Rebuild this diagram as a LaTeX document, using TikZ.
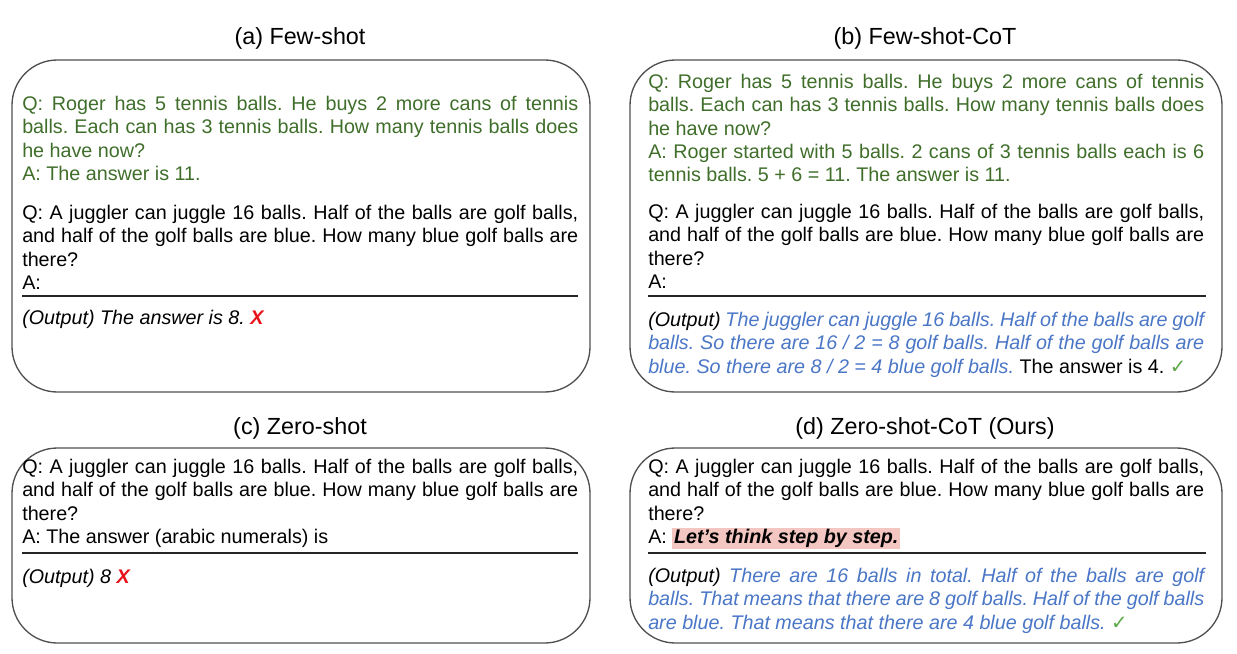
\documentclass[tikz,border=0pt]{standalone}
\usepackage{fontspec}
\setmainfont{Liberation Sans}
\newfontfamily\checkfont{DejaVu Sans}
\usetikzlibrary{positioning}
\definecolor{qgreen}{HTML}{3F6E2A}
\definecolor{outblue}{HTML}{4A76C6}
\definecolor{hlpink}{HTML}{F4C6C2}
\definecolor{xred}{HTML}{E8131A}
\definecolor{okgreen}{HTML}{5BA848}
\definecolor{framegray}{HTML}{505050}
\newcommand{\failmark}{\textcolor{xred}{\textbf{X}}}
\newcommand{\okmark}{\textcolor{okgreen}{\checkfont\bfseries ✓}}
\newcommand{\juggler}{Q: A juggler can juggle 16 balls. Half of the balls are golf balls,\linebreak and half of the golf balls are blue. How many blue golf balls are\linebreak there?}
\newcommand{\roger}{Q: Roger has 5 tennis balls. He buys 2 more cans of tennis\linebreak balls. Each can has 3 tennis balls. How many tennis balls does\linebreak he have now?}

\begin{document}
\begin{tikzpicture}[x=0.75pt,y=-0.75pt,
		panel/.style={draw=framegray, line width=1pt, rounded corners=34pt},
		caption/.style={font=\fontsize{17.5}{21}\selectfont},
		body/.style={anchor=north west, inner sep=0pt, text width=417pt, align=justify, font=\fontsize{14.8}{17.5}\selectfont\frenchspacing},
		sep/.style={draw=black!85, line width=0.9pt}]
	\useasboundingbox (0,0) rectangle (1237,653);
	% (a) few-shot
	\draw[panel] (12,60) rectangle (590,392);
	\node[caption] (capA) at (300,38) {(a) Few-shot};
	\node[body, text=qgreen] (demoA) at (22,96) {\roger\par A: The answer is 11.};
	\node[body] (questA) at (22,205) {\juggler\par A:};
	\draw[sep] (22,296) -- (578,296);
	\node[body] (outA) at (22,310) {\itshape (Output) The answer is 8. \failmark};
	% (b) few-shot-cot
	\draw[panel] (630,60) rectangle (1222,392);
	\node[caption] (capB) at (925,38) {(b) Few-shot-CoT};
	\node[body, text=qgreen] (demoB) at (648,74) {\roger\par A: Roger started with 5 balls. 2 cans of 3 tennis balls each is 6\linebreak tennis balls. 5 + 6 = 11. The answer is 11.};
	\node[body] (questB) at (648,204) {\juggler\par A:};
	\draw[sep] (648,296) -- (1206,296);
	\node[body] (outB) at (648,312) {\textit{(Output)} \textcolor{outblue}{\itshape The juggler can juggle 16 balls. Half of the balls are golf\linebreak balls. So there are 16 / 2 = 8 golf balls. Half of the golf balls are\linebreak blue. So there are 8 / 2 = 4 blue golf balls.} The answer is 4. \okmark};
	% (c) zero-shot
	\draw[panel] (12,448) rectangle (590,643);
	\node[caption] (capC) at (300,428) {(c) Zero-shot};
	\node[body] (questC) at (22,459) {\juggler\par A: The answer (arabic numerals) is};
	\draw[sep] (22,553) -- (578,553);
	\node[body] (outC) at (22,569) {\itshape (Output) 8 \failmark};
	% (d) zero-shot-cot
	\draw[panel] (630,448) rectangle (1222,643);
	\node[caption] (capD) at (925,428) {(d) Zero-shot-CoT (Ours)};
	\node[body] (questD) at (648,459) {\juggler\par A: {\setlength{\fboxsep}{1.2pt}\colorbox{hlpink}{\textbf{\textit{Let's think step by step.}}}}};
	\draw[sep] (648,553) -- (1206,553);
	\node[body] (outD) at (648,568) {\textit{(Output)} \textcolor{outblue}{\itshape There are 16 balls in total. Half of the balls are golf\linebreak balls. That means that there are 8 golf balls. Half of the golf balls\linebreak are blue. That means that there are 4 blue golf balls.} \okmark};
\end{tikzpicture}
\end{document}
